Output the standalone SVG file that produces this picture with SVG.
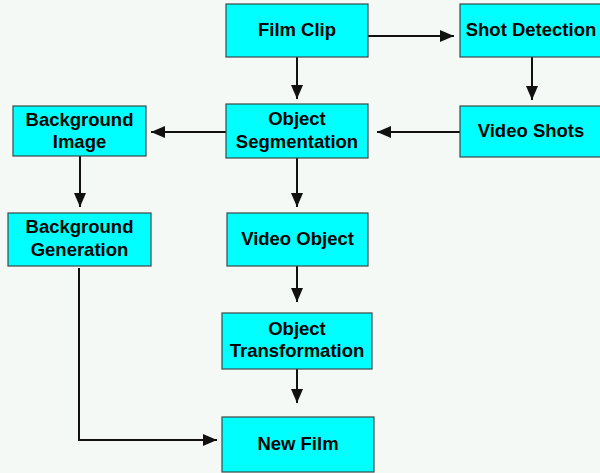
<svg xmlns="http://www.w3.org/2000/svg" width="600" height="473" viewBox="0 0 600 473">
<style>
.box{fill:#00ffff;stroke:#3c4848;stroke-width:1.2}
.t{font-family:"Liberation Sans",Arial,sans-serif;font-weight:bold;font-size:18.5px;fill:#050505;text-anchor:middle}
.c{stroke:#111;stroke-width:2;fill:none}
</style>
<defs>
<marker id="ah2" viewBox="0 0 14 12" refX="14" refY="6" markerWidth="14" markerHeight="12" markerUnits="userSpaceOnUse" orient="auto"><path d="M0,0 L14,6 L0,12 z" fill="#111"/></marker>
</defs>
<rect width="600" height="473" fill="#f5f9f6"/>
<g id="connectors">
<path class="c" d="M368,36 H454" marker-end="url(#ah2)"/>
<path class="c" d="M297,57 V99" marker-end="url(#ah2)"/>
<path class="c" d="M532,57 V100" marker-end="url(#ah2)"/>
<path class="c" d="M460,132 H377" marker-end="url(#ah2)"/>
<path class="c" d="M226,132 H151" marker-end="url(#ah2)"/>
<path class="c" d="M80,156 V207" marker-end="url(#ah2)"/>
<path class="c" d="M297,158 V207" marker-end="url(#ah2)"/>
<path class="c" d="M297,266 V302" marker-end="url(#ah2)"/>
<path class="c" d="M297,369 V403" marker-end="url(#ah2)"/>
<path class="c" d="M79,268 V440 H217" marker-end="url(#ah2)"/>
</g>
<g id="film-clip"><rect class="box" x="226" y="4" width="142" height="53"/><text class="t" x="297" y="36">Film Clip</text></g>
<g id="shot-detection"><rect class="box" x="460" y="4" width="142" height="53"/><text class="t" x="531" y="36">Shot Detection</text></g>
<g id="object-segmentation"><rect class="box" x="226" y="104" width="142" height="54"/><text class="t" x="297" y="125">Object</text><text class="t" x="297" y="148">Segmentation</text></g>
<g id="video-shots"><rect class="box" x="460" y="106" width="142" height="51"/><text class="t" x="531" y="137">Video Shots</text></g>
<g id="background-image"><rect class="box" x="13" y="106" width="133" height="50"/><text class="t" x="79.5" y="126">Background</text><text class="t" x="79.5" y="148">Image</text></g>
<g id="background-generation"><rect class="box" x="8" y="213" width="143" height="53"/><text class="t" x="79.5" y="233">Background</text><text class="t" x="79.5" y="256">Generation</text></g>
<g id="video-object"><rect class="box" x="227" y="213" width="141" height="53"/><text class="t" x="297.5" y="245">Video Object</text></g>
<g id="object-transformation"><rect class="box" x="222" y="313" width="150" height="56"/><text class="t" x="297" y="335">Object</text><text class="t" x="297" y="357">Transformation</text></g>
<g id="new-film"><rect class="box" x="222" y="417" width="152" height="55"/><text class="t" x="298" y="450">New Film</text></g>
</svg>
